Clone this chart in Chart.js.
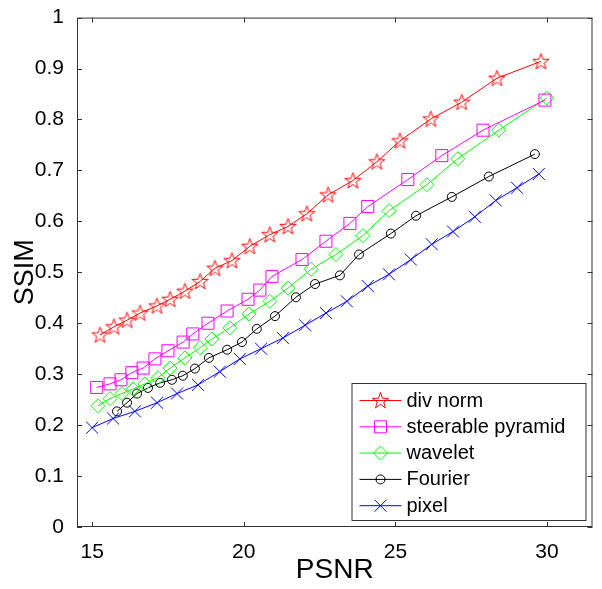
<!DOCTYPE html>
<html lang="en">
<head>
<meta charset="utf-8">
<title>SSIM vs PSNR</title>
<script src="https://cdn.jsdelivr.net/npm/chart.js@4.4.1/dist/chart.umd.min.js"></script>
<style>
  html, body { margin: 0; padding: 0; background: #fff; }
  #chart { display: block; }
</style>
</head>
<body>
<canvas id="chart" width="602" height="589"></canvas>
<script>
// axis ticks
var xTicks = [15, 20, 25, 30];
var yTicks = [0, 0.1, 0.2, 0.3, 0.4, 0.5, 0.6, 0.7, 0.8, 0.9, 1];
var yTickLabels = ['0', '0.1', '0.2', '0.3', '0.4', '0.5', '0.6', '0.7', '0.8', '0.9', '1'];

// series
var divNormX = [15.26, 15.72, 16.15, 16.58, 17.14, 17.57, 18.06, 18.56, 19.05, 19.61, 20.20, 20.86, 21.46, 22.08, 22.78, 23.60, 24.39, 25.15, 26.17, 27.19, 28.35, 29.80];
var divNormY = [0.377, 0.393, 0.406, 0.420, 0.434, 0.447, 0.463, 0.482, 0.508, 0.523, 0.551, 0.574, 0.590, 0.615, 0.652, 0.680, 0.717, 0.758, 0.801, 0.834, 0.881, 0.914];

var steerX = [15.15, 15.59, 15.95, 16.31, 16.68, 17.07, 17.50, 18.00, 18.32, 18.82, 19.45, 20.14, 20.53, 20.93, 21.92, 22.71, 23.50, 24.09, 25.41, 26.53, 27.89, 29.93];
var steerY = [0.274, 0.281, 0.289, 0.303, 0.312, 0.330, 0.346, 0.363, 0.379, 0.400, 0.424, 0.447, 0.465, 0.492, 0.525, 0.561, 0.596, 0.629, 0.682, 0.729, 0.779, 0.838];

var waveletX = [15.19, 15.59, 15.98, 16.35, 16.74, 17.17, 17.57, 18.06, 18.56, 18.95, 19.54, 20.17, 20.86, 21.46, 22.22, 23.04, 23.93, 24.79, 26.04, 27.06, 28.41, 29.99];
var waveletY = [0.238, 0.252, 0.262, 0.271, 0.281, 0.293, 0.312, 0.332, 0.352, 0.369, 0.391, 0.418, 0.443, 0.469, 0.506, 0.535, 0.572, 0.621, 0.672, 0.723, 0.779, 0.842];

var fourierX = [15.82, 16.15, 16.48, 16.84, 17.24, 17.63, 17.99, 18.39, 18.85, 19.45, 19.94, 20.43, 21.03, 21.72, 22.35, 23.17, 23.80, 24.85, 25.68, 26.86, 28.08, 29.60];
var fourierY = [0.227, 0.244, 0.262, 0.273, 0.283, 0.289, 0.297, 0.311, 0.332, 0.348, 0.363, 0.389, 0.414, 0.451, 0.477, 0.494, 0.535, 0.576, 0.611, 0.648, 0.688, 0.732];

var pixelX = [15.0, 15.69, 16.41, 17.14, 17.80, 18.49, 19.21, 19.87, 20.57, 21.29, 22.02, 22.71, 23.40, 24.09, 24.79, 25.51, 26.20, 26.90, 27.62, 28.31, 29.01, 29.73];
var pixelY = [0.195, 0.213, 0.227, 0.244, 0.262, 0.279, 0.305, 0.330, 0.350, 0.371, 0.396, 0.420, 0.443, 0.473, 0.496, 0.525, 0.555, 0.580, 0.609, 0.641, 0.666, 0.693];

var FONT = '"Liberation Sans", Arial, sans-serif';

function pts(xs, ys) {
    return xs.map(function(x, i) { return { x: x, y: ys[i] }; });
}

// matlab style hollow pentagram
function pentagram(color) {
    var c = document.createElement('canvas');
    c.width = 19; c.height = 19;
    var g = c.getContext('2d');
    var cx = 9.5, cy = 10, ro = 8.5, ri = 3.4;
    g.strokeStyle = color;
    g.lineWidth = 1;
    g.beginPath();
    for (var i = 0; i < 10; i++) {
        var r = i % 2 ? ri : ro;
        var a = -Math.PI / 2 + i * Math.PI / 5;
        var px = cx + r * Math.cos(a), py = cy + r * Math.sin(a);
        if (i == 0) g.moveTo(px, py); else g.lineTo(px, py);
    }
    g.closePath();
    g.stroke();
    return c;
}

function series(label, xs, ys, color, style, radius) {
    return {
        label: label,
        data: pts(xs, ys),
        borderColor: color,
        borderWidth: 1,
        backgroundColor: 'rgba(0,0,0,0)',
        pointStyle: style,
        pointRadius: radius,
        pointBorderColor: color,
        pointBackgroundColor: 'rgba(0,0,0,0)',
        pointBorderWidth: 1,
        tension: 0
    };
}

var boxPlugin = {
    id: 'box',
    afterDatasetsDraw: function(chart) {
        var ctx = chart.ctx, a = chart.chartArea;
        var xs = chart.scales.x, ys = chart.scales.y;
        ctx.save();
        ctx.strokeStyle = '#333';
        ctx.lineWidth = 1;
        ctx.beginPath();
        xTicks.forEach(function(v) {
            var px = Math.round(xs.getPixelForValue(v)) + 0.5;
            ctx.moveTo(px, a.bottom); ctx.lineTo(px, a.bottom - 5);
            ctx.moveTo(px, a.top); ctx.lineTo(px, a.top + 5);
        });
        yTicks.forEach(function(v) {
            var py = Math.round(ys.getPixelForValue(v)) + 0.5;
            ctx.moveTo(a.left, py); ctx.lineTo(a.left + 5, py);
            ctx.moveTo(a.right, py); ctx.lineTo(a.right - 5, py);
        });
        ctx.stroke();
        ctx.strokeRect(a.left + 0.5, a.top + 0.5, a.right - a.left - 1, a.bottom - a.top - 1);
        ctx.restore();
    }
};

// legend box in the lower right, like matlab's
var legendPlugin = {
    id: 'boxLegend',
    afterDraw: function(chart) {
        var ctx = chart.ctx, a = chart.chartArea;
        var bx = a.right - 241, by = a.bottom - 144, bw = 234, bh = 137;
        ctx.save();
        ctx.fillStyle = '#fff';
        ctx.fillRect(bx, by, bw, bh);
        ctx.strokeStyle = '#333';
        ctx.lineWidth = 1;
        ctx.strokeRect(bx + 0.5, by + 0.5, bw, bh);
        ctx.font = '20px ' + FONT;
        ctx.textBaseline = 'middle';
        chart.data.datasets.forEach(function(ds, i) {
            var y = by + 17 + i * 26.3;
            ctx.strokeStyle = ds.borderColor;
            ctx.lineWidth = 1;
            ctx.beginPath();
            ctx.moveTo(bx + 8, y + 0.5); ctx.lineTo(bx + 50, y + 0.5);
            ctx.stroke();
            ctx.fillStyle = 'rgba(0,0,0,0)';
            Chart.helpers.drawPoint(ctx, {
                pointStyle: ds.pointStyle,
                radius: ds.pointRadius,
                rotation: 0,
                borderWidth: 1
            }, bx + 29, y + 0.5);
            ctx.fillStyle = '#000';
            ctx.fillText(ds.label, bx + 55, y + 1);
        });
        ctx.restore();
    }
};

var chart = new Chart(document.getElementById('chart'), {
    type: 'line',
    data: {
        datasets: [
            series('div norm', divNormX, divNormY, '#ff0000', pentagram('#ff0000'), 8),
            series('steerable pyramid', steerX, steerY, '#ff00ff', 'rect', 8.5),
            series('wavelet', waveletX, waveletY, '#00ff00', 'rectRot', 7),
            series('Fourier', fourierX, fourierY, '#000000', 'circle', 4.5),
            series('pixel', pixelX, pixelY, '#0000ff', 'crossRot', 8.5)
        ]
    },
    options: {
        responsive: false,
        animation: false,
        layout: { padding: { top: 15, right: 9, left: 0, bottom: 0 } },
        plugins: {
            legend: { display: false },
            tooltip: { enabled: false }
        },
        scales: {
            x: {
                type: 'linear',
                min: 14.5,
                max: 31.5,
                afterBuildTicks: function(s) { s.ticks = xTicks.map(function(v) { return { value: v }; }); },
                afterFit: function(s) { s.height = 62; },
                grid: { display: false },
                border: { display: false },
                ticks: { color: '#000', padding: 5, maxRotation: 0, font: { family: FONT, size: 21 } },
                title: { display: true, text: 'PSNR', color: '#000', padding: { top: 0, bottom: 2 }, font: { family: FONT, size: 28 } }
            },
            y: {
                type: 'linear',
                min: 0,
                max: 1,
                afterBuildTicks: function(s) { s.ticks = yTicks.map(function(v) { return { value: v }; }); },
                afterFit: function(s) { s.width = 77; },
                grid: { display: false },
                border: { display: false },
                ticks: {
                    color: '#000', padding: 5, font: { family: FONT, size: 21 },
                    callback: function(v, i) { return yTickLabels[i]; }
                },
                title: { display: true, text: 'SSIM', color: '#000', padding: { top: 9, bottom: 0 }, font: { family: FONT, size: 27 } }
            }
        }
    },
    plugins: [boxPlugin, legendPlugin]
});
</script>
</body>
</html>
